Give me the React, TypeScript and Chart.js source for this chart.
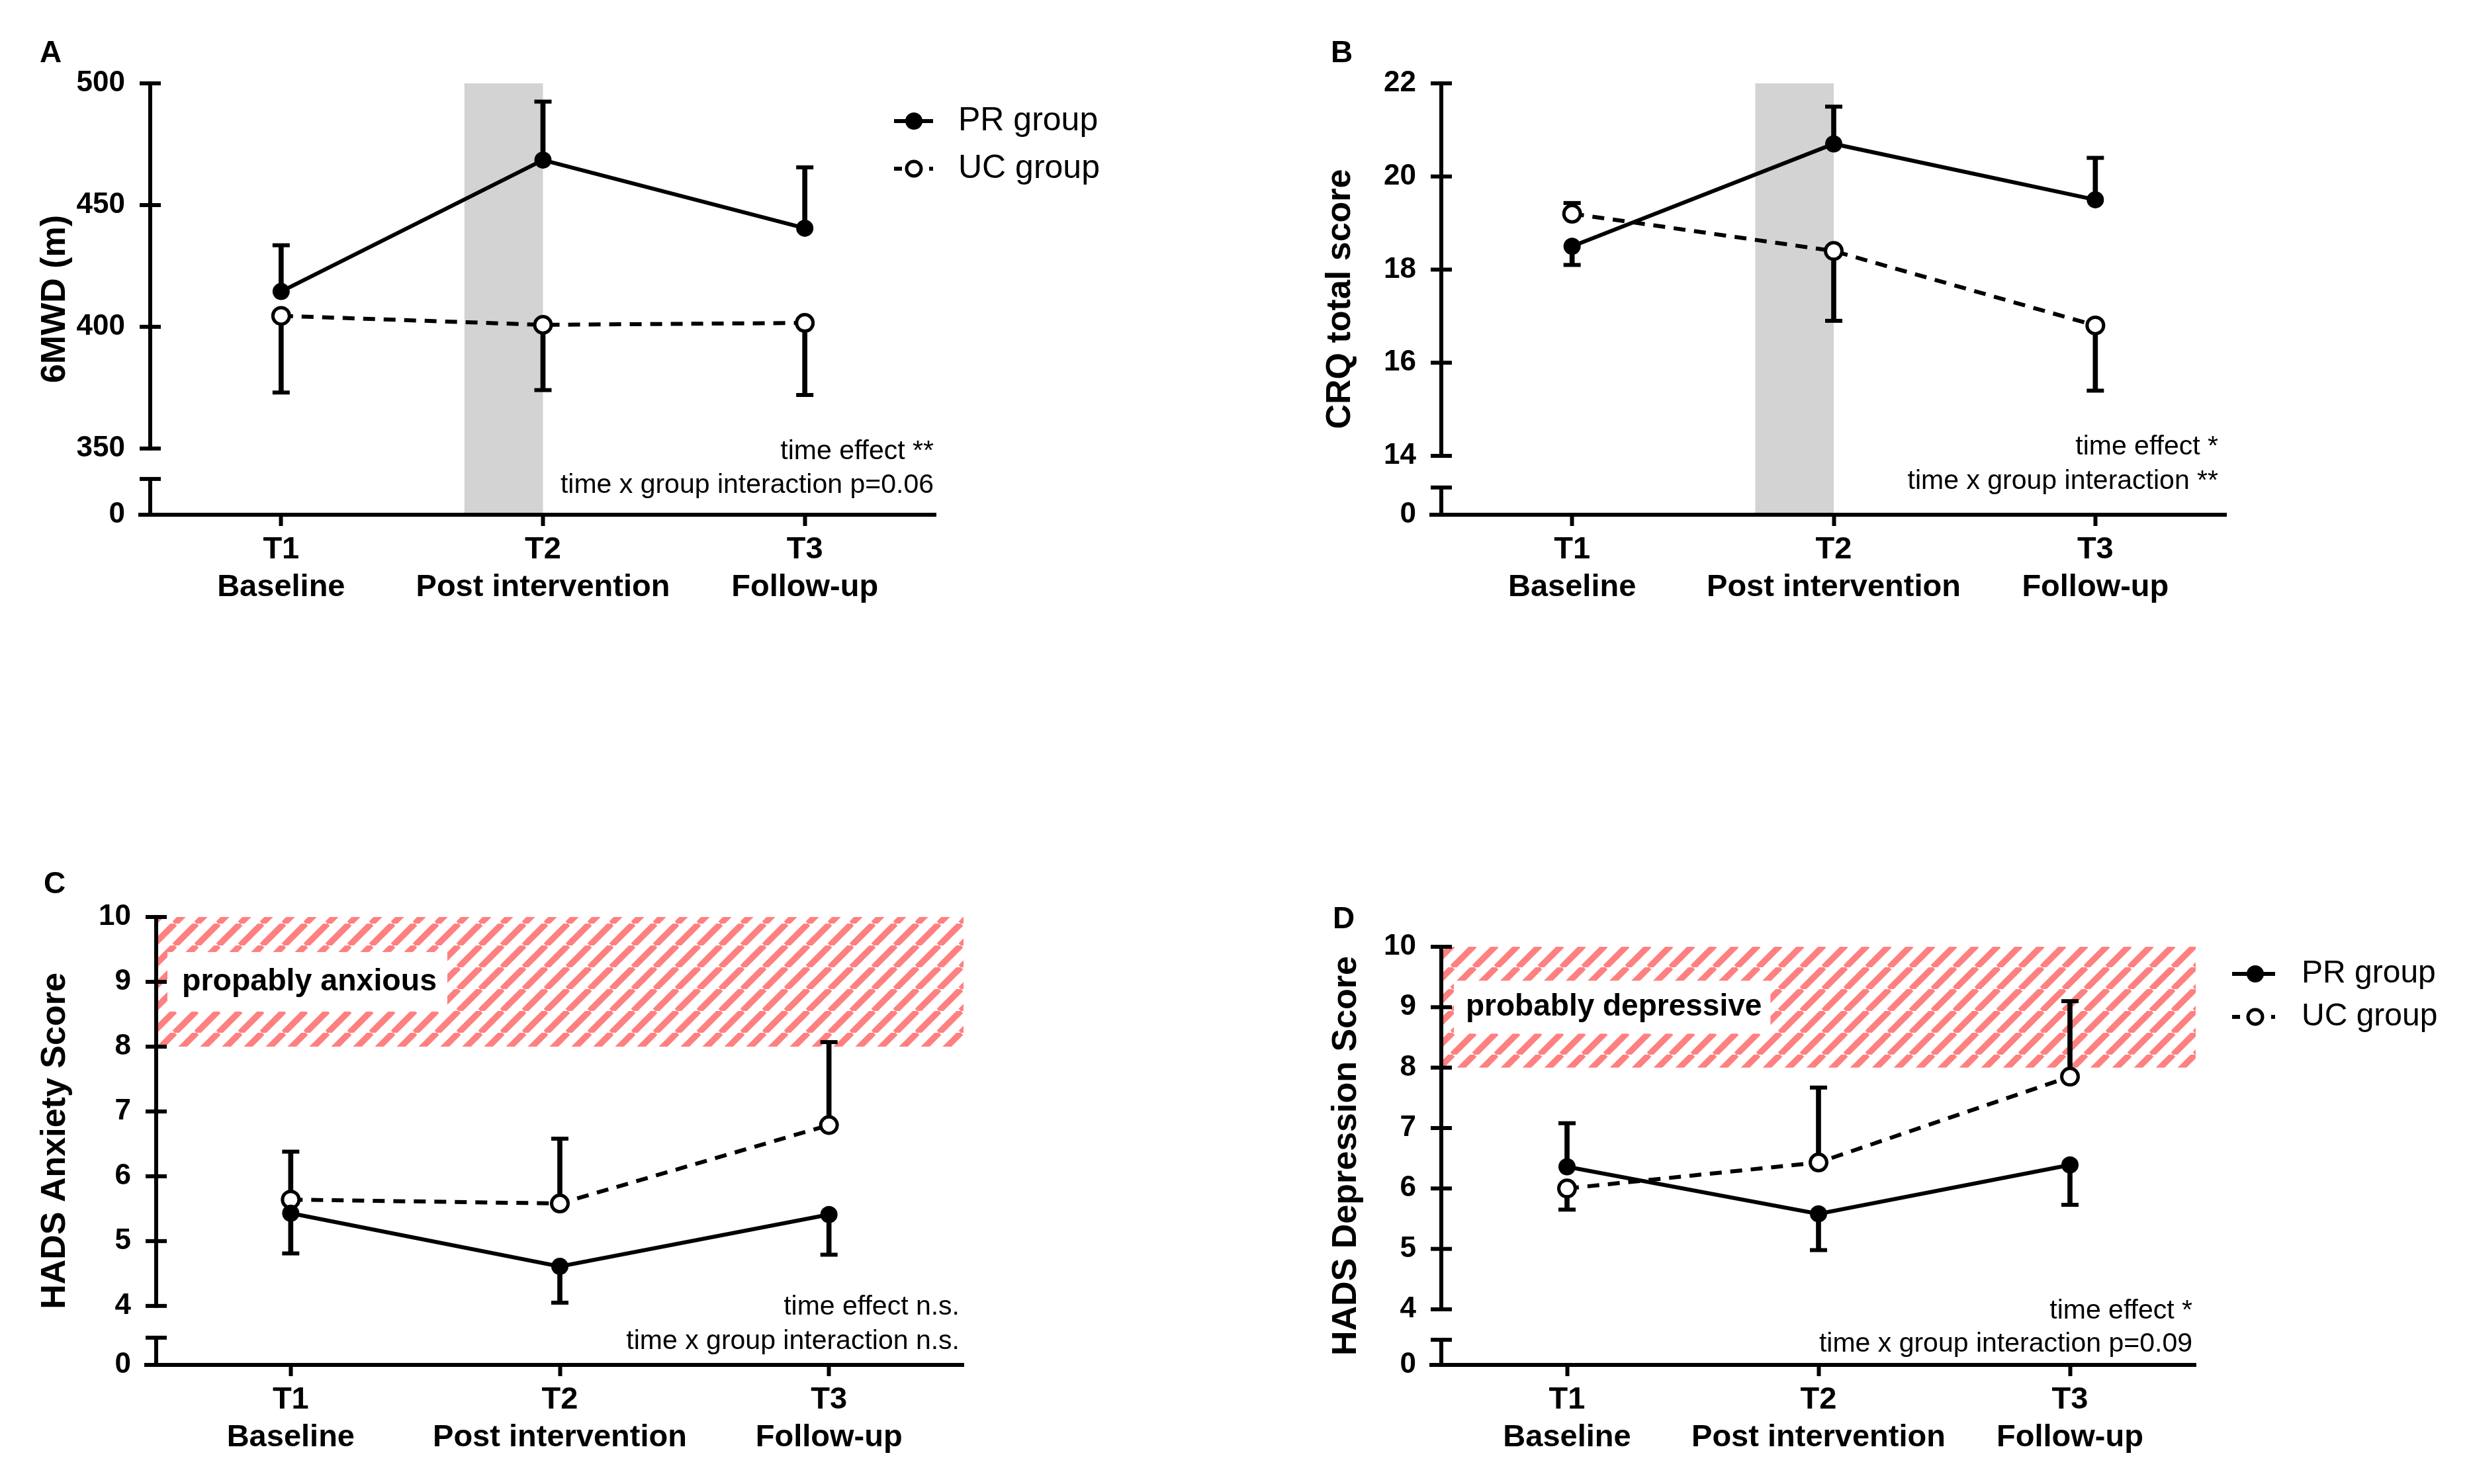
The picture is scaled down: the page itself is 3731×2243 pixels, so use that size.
import React, { useEffect, useRef } from "react";
import { Chart, registerables } from "chart.js";

Chart.register(...registerables);

const FONT = "'Liberation Sans', Arial, Helvetica, sans-serif";

// ---------- shared ----------
const categories = [["T1", "Baseline"], ["T2", "Post intervention"], ["T3", "Follow-up"]];
const groupNames = ["PR group", "UC group"];

// ---------- A: 6MWD ----------
const mwdPR = [414.5, 468.5, 440.5];
const mwdPRBar = [433.5, 492.5, 465.5];
const mwdUC = [404.5, 400.8, 401.6];
const mwdUCBar = [373, 374, 372];
const mwdTicks = [350, 400, 450, 500];
const mwdNotes = ["time effect **", "time x group interaction p=0.06"];

// ---------- B: CRQ ----------
const crqPR = [18.5, 20.7, 19.5];
const crqPRBar = [18.1, 21.5, 20.4];
const crqUC = [19.2, 18.4, 16.8];
const crqUCBar = [19.43, 16.9, 15.4];
const crqTicks = [14, 16, 18, 20, 22];
const crqNotes = ["time effect *", "time x group interaction **"];

// ---------- C: HADS anxiety ----------
const anxPR = [5.43, 4.61, 5.41];
const anxPRBar = [4.81, 4.05, 4.79];
const anxUC = [5.64, 5.58, 6.79];
const anxUCBar = [6.38, 6.58, 8.07];
const anxTicks = [4, 5, 6, 7, 8, 9, 10];
const anxNotes = ["time effect n.s.", "time x group interaction n.s."];
const anxZone = [8, 10];
const anxZoneLabel = "propably anxious";

// ---------- D: HADS depression ----------
const depPR = [6.36, 5.58, 6.39];
const depPRBar = [7.08, 4.98, 5.73];
const depUC = [6.0, 6.43, 7.85];
const depUCBar = [5.65, 7.67, 9.1];
const depTicks = [4, 5, 6, 7, 8, 9, 10];
const depNotes = ["time effect *", "time x group interaction p=0.09"];
const depZone = [8, 10];
const depZoneLabel = "probably depressive";

type Panel = {
  region: { x: number; y: number; w: number; h: number };
  area: { l: number; t: number; r: number; b: number };
  yMin: number;
  yBreak: number;
  ticks: number[];
  title: string;
  titleX: number;
  pr: number[];
  prBar: number[];
  uc: number[];
  ucBar: number[];
  letter: { t: string; x: number; y: number };
  notes: string[];
  notesRight: number;
  notesY: number[];
  band?: number[];
  zone?: { range: number[]; label: string; at: number; boxOff: number; textPad: number; padR: number; h: number; size: number };
  legend?: { x0: number; x1: number; cx: number; tx: number; ys: number[]; size: number };
};

const panels: Panel[] = [
  {
    region: { x: 0, y: 0, w: 1865, h: 1000 },
    area: { l: 227, t: 126, r: 1414, b: 778 },
    yMin: 322.8, yBreak: 337.5, ticks: mwdTicks, title: "6MWD (m)", titleX: 84,
    pr: mwdPR, prBar: mwdPRBar, uc: mwdUC, ucBar: mwdUCBar,
    letter: { t: "A", x: 60, y: 94 },
    notes: mwdNotes, notesRight: 1411, notesY: [683, 734],
    band: [0.7, 1.0],
    legend: { x0: 1351, x1: 1410, cx: 1381, tx: 1448, ys: [183, 255], size: 50 },
  },
  {
    region: { x: 1865, y: 0, w: 1866, h: 1000 },
    area: { l: 2178, t: 126, r: 3364, b: 778 },
    yMin: 12.735, yBreak: 13.32, ticks: crqTicks, title: "CRQ total score", titleX: 2026,
    pr: crqPR, prBar: crqPRBar, uc: crqUC, ucBar: crqUCBar,
    letter: { t: "B", x: 2011, y: 94 },
    notes: crqNotes, notesRight: 3352, notesY: [676, 728],
    band: [0.7, 1.0],
  },
  {
    region: { x: 0, y: 1000, w: 1865, h: 1243 },
    area: { l: 236, t: 1386, r: 1456, b: 2063 },
    yMin: 3.09, yBreak: 3.51, ticks: anxTicks, title: "HADS Anxiety Score", titleX: 84,
    pr: anxPR, prBar: anxPRBar, uc: anxUC, ucBar: anxUCBar,
    letter: { t: "C", x: 66, y: 1350 },
    notes: anxNotes, notesRight: 1450, notesY: [1976, 2028],
    zone: { range: anxZone, label: anxZoneLabel, at: 9, boxOff: 17, textPad: 22, padR: 16, h: 90, size: 46.5 },
  },
  {
    region: { x: 1865, y: 1000, w: 1866, h: 1243 },
    area: { l: 2178, t: 1431, r: 3318, b: 2063 },
    yMin: 3.08, yBreak: 3.496, ticks: depTicks, title: "HADS Depression Score", titleX: 2035,
    pr: depPR, prBar: depPRBar, uc: depUC, ucBar: depUCBar,
    letter: { t: "D", x: 2014, y: 1403 },
    notes: depNotes, notesRight: 3313, notesY: [1982, 2032],
    zone: { range: depZone, label: depZoneLabel, at: 9, boxOff: 19, textPad: 18, padR: 13, h: 80, size: 46 },
    legend: { x0: 3373, x1: 3438, cx: 3408, tx: 3478, ys: [1472, 1537], size: 48 },
  },
];

function makeDecor(p: Panel) {
  const ox = p.region.x;
  const oy = p.region.y;
  return {
    id: "decor",
    beforeDatasetsDraw(chart: any) {
      const { ctx, chartArea: ca, scales } = chart;
      const xs = scales.x;
      const ys = scales.y;
      ctx.save();
      if (p.band) {
        const x0 = xs.getPixelForValue(p.band[0]);
        const x1 = xs.getPixelForValue(p.band[1]);
        ctx.fillStyle = "rgb(211,211,211)";
        ctx.fillRect(x0, ca.top, x1 - x0, ca.bottom - 3 - ca.top);
      }
      if (p.zone) {
        const s = 33;
        const tile = document.createElement("canvas");
        tile.width = s;
        tile.height = s;
        const g = tile.getContext("2d")!;
        g.strokeStyle = "rgb(255,128,128)";
        g.lineWidth = 9.5;
        g.beginPath();
        for (const o of [-s, 0, s]) {
          g.moveTo(o, s);
          g.lineTo(o + s, 0);
        }
        g.stroke();
        const pat = ctx.createPattern(tile, "repeat");
        const y0 = ys.getPixelForValue(p.zone.range[1]);
        const y1 = ys.getPixelForValue(p.zone.range[0]);
        ctx.fillStyle = pat;
        ctx.fillRect(ca.left + 3, y0, ca.right - ca.left - 3, y1 - y0);
        ctx.font = `bold ${p.zone.size}px ${FONT}`;
        const tw = ctx.measureText(p.zone.label).width;
        const yc = ys.getPixelForValue(p.zone.at);
        const bx = ca.left + p.zone.boxOff;
        ctx.fillStyle = "#fff";
        ctx.fillRect(bx, yc - p.zone.h / 2, p.zone.textPad + tw + p.zone.padR, p.zone.h);
        ctx.fillStyle = "#000";
        ctx.textAlign = "left";
        ctx.textBaseline = "middle";
        ctx.fillText(p.zone.label, bx + p.zone.textPad, yc);
      }
      ctx.restore();
    },
    afterDraw(chart: any) {
      const { ctx, chartArea: ca, scales } = chart;
      const ys = scales.y;
      const line = (x1: number, y1: number, x2: number, y2: number) => {
        ctx.beginPath();
        ctx.moveTo(x1, y1);
        ctx.lineTo(x2, y2);
        ctx.stroke();
      };
      ctx.save();
      ctx.strokeStyle = "#000";
      ctx.lineWidth = 6;
      ctx.lineCap = "butt";
      const x = ca.left;
      const yTop = ys.getPixelForValue(p.ticks[p.ticks.length - 1]);
      const yLow = ys.getPixelForValue(p.ticks[0]);
      line(x, yTop - 3, x, yLow + 3);
      for (const t of p.ticks) {
        const yy = ys.getPixelForValue(t);
        line(x - 16, yy, x + 16, yy);
      }
      const yb = ys.getPixelForValue(p.yBreak);
      line(x - 16, yb, x + 16, yb);
      line(x, yb, x, ca.bottom);
      line(x - 18, ca.bottom, x + 3, ca.bottom);

      // panel letter
      ctx.fillStyle = "#000";
      ctx.font = `bold 46px ${FONT}`;
      ctx.textAlign = "left";
      ctx.textBaseline = "alphabetic";
      ctx.fillText(p.letter.t, p.letter.x - ox, p.letter.y - oy);

      // statistics notes
      ctx.font = `41px ${FONT}`;
      ctx.textAlign = "right";
      ctx.textBaseline = "middle";
      p.notes.forEach((n, i) => ctx.fillText(n, p.notesRight - ox, p.notesY[i] - oy));

      // legend
      if (p.legend) {
        const lg = p.legend;
        const x0 = lg.x0 - ox;
        const x1 = lg.x1 - ox;
        const cx = lg.cx - ox;
        const yA = lg.ys[0] - oy;
        const yB = lg.ys[1] - oy;
        ctx.lineWidth = 6;
        line(x0, yA, x1, yA);
        ctx.beginPath();
        ctx.arc(cx, yA, 13, 0, Math.PI * 2);
        ctx.fillStyle = "#000";
        ctx.fill();
        line(x0, yB, x0 + 12, yB);
        line(x1 - 6, yB, x1, yB);
        ctx.beginPath();
        ctx.arc(cx, yB, 11, 0, Math.PI * 2);
        ctx.fillStyle = "#fff";
        ctx.fill();
        ctx.lineWidth = 5;
        ctx.stroke();
        ctx.fillStyle = "#000";
        ctx.font = `${lg.size}px ${FONT}`;
        ctx.textAlign = "left";
        ctx.textBaseline = "middle";
        ctx.fillText(groupNames[0], lg.tx - ox, yA);
        ctx.fillText(groupNames[1], lg.tx - ox, yB);
      }
      ctx.restore();
    },
  };
}

function PanelChart({ p }: { p: Panel }) {
  const ref = useRef<HTMLCanvasElement>(null);
  useEffect(() => {
    const canvas = ref.current;
    if (!canvas) return;
    const ox = p.region.x;
    const oy = p.region.y;
    const L = p.area.l - ox;
    const T = p.area.t - oy;
    const R = p.area.r - ox;
    const B = p.area.b - oy;
    const stems = (m: number[], e: number[]) => m.map((v, i) => [Math.min(v, e[i]), Math.max(v, e[i])]);
    const titleFont = 52;
    const chart = new Chart(canvas, {
      type: "line",
      data: {
        labels: categories as any,
        datasets: [
          {
            type: "line",
            label: groupNames[0],
            data: p.pr,
            borderColor: "#000",
            borderWidth: 6,
            pointStyle: "circle",
            pointRadius: 13,
            pointBackgroundColor: "#000",
            pointBorderColor: "#000",
            pointBorderWidth: 0,
            order: 0,
          },
          {
            type: "line",
            label: groupNames[1],
            data: p.uc,
            borderColor: "#000",
            borderWidth: 6,
            borderDash: [18, 13],
            pointStyle: "circle",
            pointRadius: 12.5,
            pointBackgroundColor: "#fff",
            pointBorderColor: "#000",
            pointBorderWidth: 5,
            order: 1,
          },
          {
            type: "bar",
            label: "PR error",
            data: stems(p.pr, p.prBar) as any,
            backgroundColor: "#000",
            borderWidth: 0,
            barThickness: 7,
            grouped: false,
            order: 3,
          },
          {
            type: "bar",
            label: "UC error",
            data: stems(p.uc, p.ucBar) as any,
            backgroundColor: "#000",
            borderWidth: 0,
            barThickness: 7,
            grouped: false,
            order: 3,
          },
          {
            type: "line",
            label: "PR cap",
            data: p.prBar,
            showLine: false,
            pointStyle: "line",
            pointRadius: 13,
            pointBorderWidth: 6,
            pointBorderColor: "#000",
            pointBackgroundColor: "#000",
            order: 2,
          },
          {
            type: "line",
            label: "UC cap",
            data: p.ucBar,
            showLine: false,
            pointStyle: "line",
            pointRadius: 13,
            pointBorderWidth: 6,
            pointBorderColor: "#000",
            pointBackgroundColor: "#000",
            order: 2,
          },
        ] as any,
      },
      options: {
        responsive: false,
        animation: false,
        devicePixelRatio: 1,
        events: [],
        layout: { autoPadding: false, padding: { left: 0, top: T, right: p.region.w - R, bottom: 0 } },
        plugins: { legend: { display: false }, tooltip: { enabled: false } },
        scales: {
          x: {
            type: "category",
            offset: true,
            grid: {
              display: true,
              offset: false,
              drawOnChartArea: false,
              drawTicks: true,
              tickLength: 17,
              tickWidth: 6,
              tickColor: "#000",
            },
            border: { display: true, width: 6, color: "#000" },
            ticks: {
              color: "#000",
              maxRotation: 0,
              autoSkip: false,
              padding: 8,
              font: { family: FONT, size: 47, weight: "bold", lineHeight: 1.2 },
            },
            afterFit: (s: any) => {
              s.height = p.region.h - B;
            },
          },
          y: {
            type: "linear",
            min: p.yMin,
            max: p.ticks[p.ticks.length - 1],
            afterBuildTicks: (s: any) => {
              s.ticks = [p.yMin, p.yBreak, ...p.ticks].map((v) => ({ value: v }));
            },
            grid: { display: false },
            border: { display: false },
            ticks: {
              color: "#000",
              autoSkip: false,
              padding: 30,
              font: { family: FONT, size: 44, weight: "bold" },
              callback: (v: any) => (v === p.yMin ? "0" : v === p.yBreak ? "" : String(v)),
            },
            title: {
              display: true,
              text: p.title,
              color: "#000",
              font: { family: FONT, size: titleFont, weight: "bold", lineHeight: 1.2 },
              padding: { top: p.titleX - ox - (titleFont * 1.2) / 2, bottom: 0 },
            },
            afterFit: (s: any) => {
              s.width = L;
            },
          },
        },
      } as any,
      plugins: [makeDecor(p)],
    });
    return () => chart.destroy();
  }, [p]);
  return (
    <canvas
      ref={ref}
      width={p.region.w}
      height={p.region.h}
      style={{ position: "absolute", left: p.region.x, top: p.region.y, width: p.region.w, height: p.region.h, display: "block" }}
    />
  );
}

export default function App() {
  return (
    <div style={{ position: "fixed", left: 0, top: 0, width: 3731, height: 2243, background: "#fff", overflow: "hidden" }}>
      {panels.map((p, i) => (
        <PanelChart key={i} p={p} />
      ))}
    </div>
  );
}
